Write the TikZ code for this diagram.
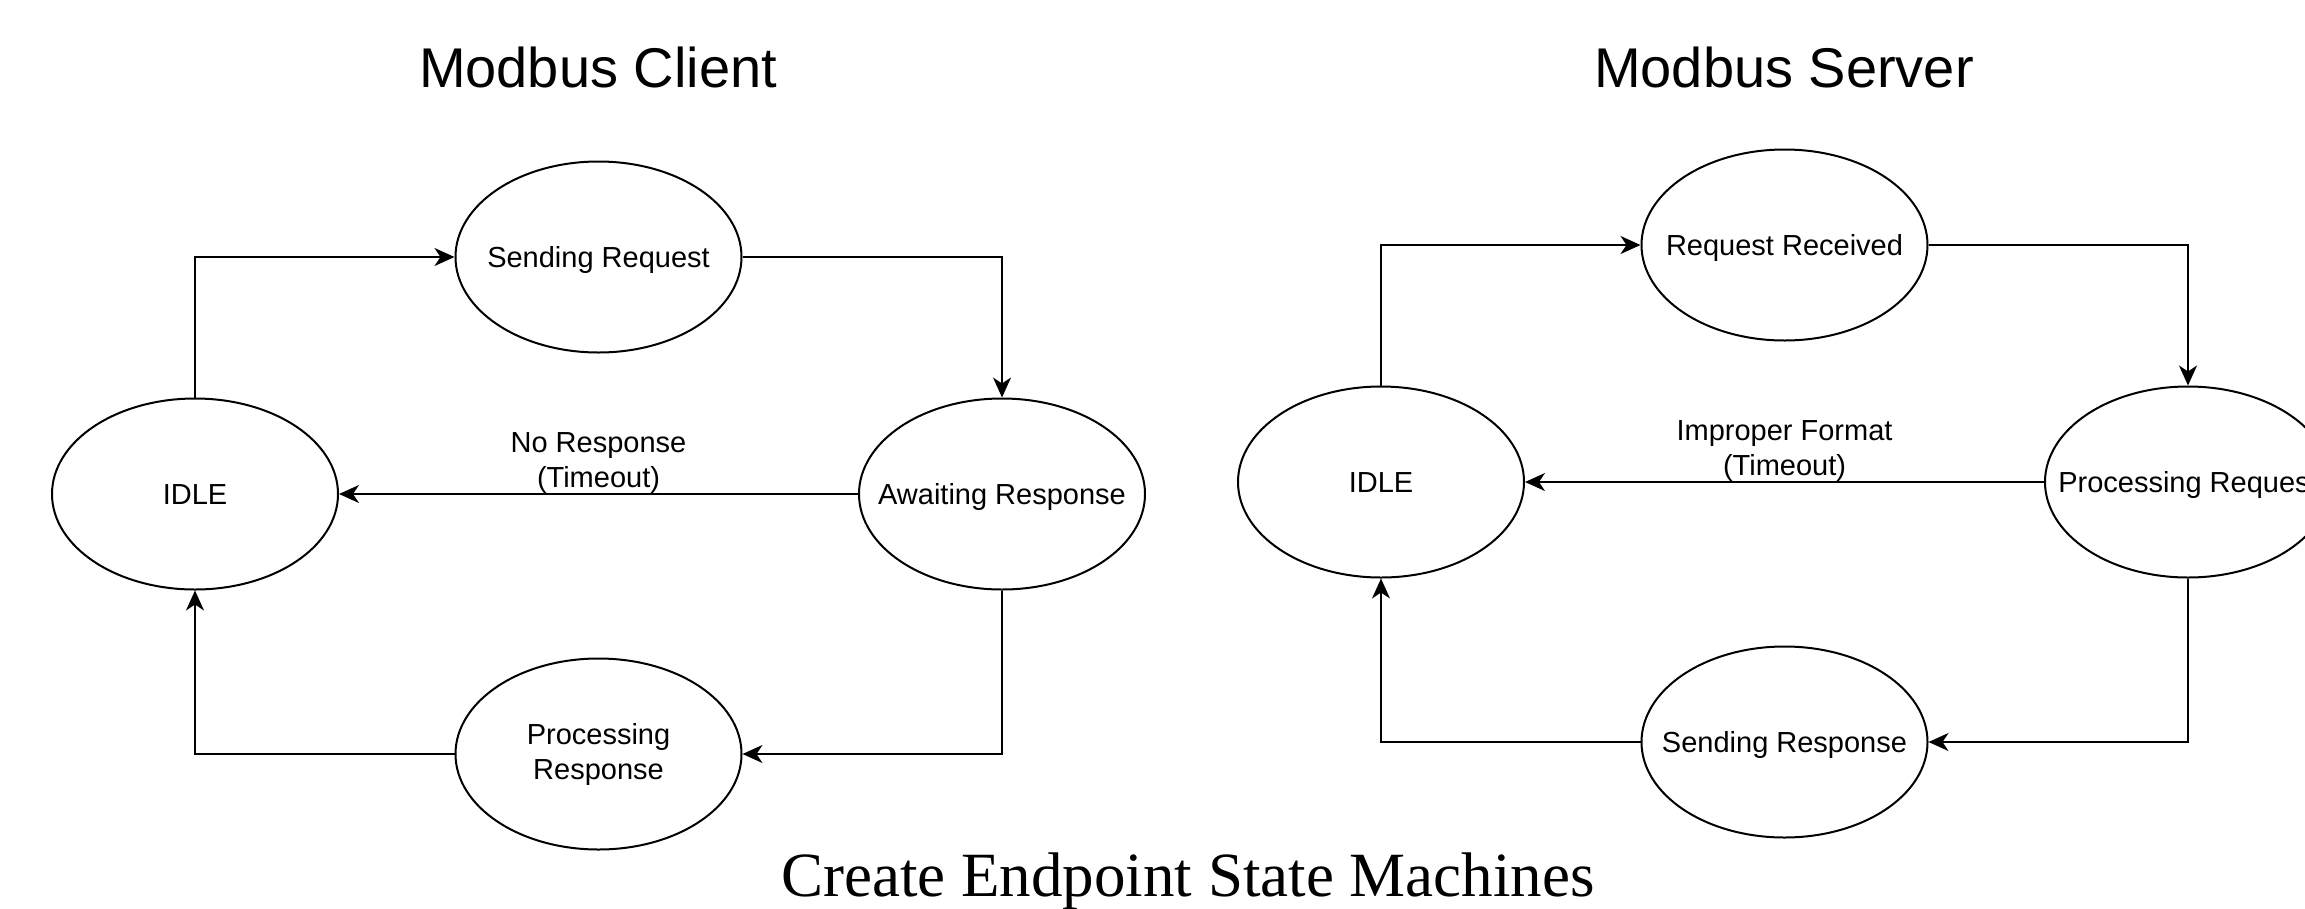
\documentclass[tikz,border=0pt]{standalone}
\usepackage{fontspec}
\setmainfont{Liberation Sans}
\newfontfamily\capfont{Liberation Serif}
\usetikzlibrary{shapes.geometric,arrows.meta}
\tikzset{
  x=1pt, y=-1pt,
  statenode/.style={draw, ellipse, line width=2pt, minimum width=286pt, minimum height=191pt,
    inner sep=0pt, font=\fontsize{29}{35}\selectfont, align=center},
  single/.style={text height=21pt, text depth=0pt},
  arr/.style={line width=2pt, -{Stealth[length=20pt, width=18pt, inset=6pt]}},
  lbl/.style={font=\fontsize{29}{35}\selectfont, align=center, inner sep=0pt},
  titlefont/.style={font=\fontsize{56}{60}\selectfont, inner sep=0pt, anchor=base},
}
\begin{document}
\begin{tikzpicture}
\useasboundingbox (0,0) rectangle (2305,908);
\clip (0,0) rectangle (2305,908);
% Client
\node[titlefont] (tc) at (598,87) {Modbus Client};
\node[statenode, single] (cidle) at (195,494) {\makebox[0pt]{IDLE}};
\node[statenode, single] (csr) at (598.5,257) {\makebox[0pt]{Sending Request}};
\node[statenode, single] (caw) at (1002,494) {\makebox[0pt]{Awaiting Response}};
\node[statenode] (cpr) at (598.5,754) {Processing\\Response};
\draw[arr] (cidle.north) |- (csr.west);
\draw[arr] (csr.east) -| (caw.north);
\draw[arr] (caw.west) -- node[lbl, above] {No Response\\(Timeout)} (cidle.east);
\draw[arr] (caw.south) |- (cpr.east);
\draw[arr] (cpr.west) -| (cidle.south);
% Server
\node[titlefont] (ts) at (1784,87) {Modbus Server};
\node[statenode, single] (sidle) at (1381,482) {\makebox[0pt]{IDLE}};
\node[statenode, single] (srr) at (1784.5,245) {\makebox[0pt]{Request Received}};
\node[statenode, single] (spr) at (2188,482) {\makebox[0pt]{Processing Request}};
\node[statenode, single] (ssr) at (1784.5,742) {\makebox[0pt]{Sending Response}};
\draw[arr] (sidle.north) |- (srr.west);
\draw[arr] (srr.east) -| (spr.north);
\draw[arr] (spr.west) -- node[lbl, above] {Improper Format\\(Timeout)} (sidle.east);
\draw[arr] (spr.south) |- (ssr.east);
\draw[arr] (ssr.west) -| (sidle.south);
% Caption
\node[font=\capfont\fontsize{63}{70}\selectfont, inner sep=0pt, anchor=base] (cap) at (1188,896) {Create Endpoint State Machines};
\end{tikzpicture}
\end{document}
